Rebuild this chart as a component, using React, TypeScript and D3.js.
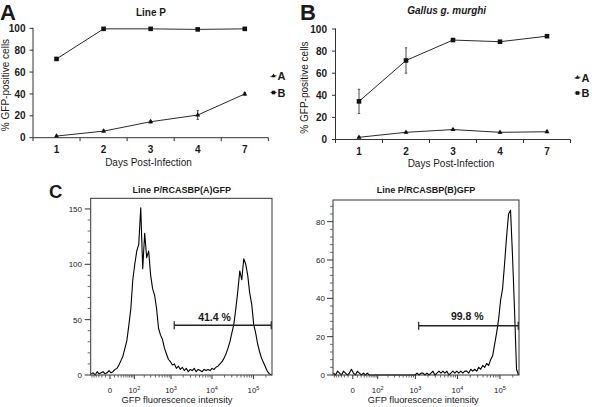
import React from "react";
import * as d3 from "d3";

// ---------- data ----------
const days = ["1", "2", "3", "4", "7"];
const pctTicks = [0, 20, 40, 60, 80, 100];

const linePA = [1.5, 6, 14.6, 20.7, 40];
const linePAerr = [0.8, 1, 1.2, 4, 1.2];
const linePB = [72, 99.5, 99.5, 99, 99.5];
const linePBerr = [0.5, 0.5, 0.5, 0.5, 0.5];

const gallusA = [2, 6.5, 9, 6.5, 7];
const gallusAerr = [0.5, 0.8, 0.8, 0.8, 0.8];
const gallusB = [34.5, 71.5, 90, 88.5, 93.5];
const gallusBerr = [11, 11.5, 0.8, 0.8, 0.8];

// flow histogram counts, bins evenly spaced on the display (logicle-like) axis
const histA = [
  1, 2, 0, 3, 1, 2, 3, 1, 2, 4, 2, 3, 5, 6, 9, 13, 17, 24, 31, 45,
  60, 86, 100, 112, 118, 151, 96, 128, 106, 112, 90, 78, 72, 60, 42, 36, 32, 24, 19, 14,
  12, 9, 10, 6, 8, 5, 7, 4, 6, 3, 5, 4, 6, 3, 5, 4, 3, 5, 4, 5,
  4, 6, 5, 7, 8, 10, 12, 15, 19, 24, 30, 38, 46, 60, 76, 94, 86, 105, 100, 90,
  74, 64, 46, 38, 28, 21, 15, 11, 7, 3, 1, 0,
];
const histB = [
  1, 0, 2, 1, 0, 2, 1, 0, 1, 3, 1, 0, 2, 1, 0, 1, 0, 1, 0, 0,
  0, 0, 0, 0, 0, 0, 0, 0, 0, 0, 0, 0, 0, 0, 0, 0, 0, 0, 0, 0,
  0, 0, 1, 0, 1, 1, 0, 1, 0, 1, 2, 0, 1, 2, 1, 2, 1, 2, 0, 1,
  2, 1, 2, 1, 2, 1, 2, 2, 1, 3, 2, 3, 2, 4, 3, 5, 4, 6, 5, 8,
  10, 16, 22, 29, 39, 45, 58, 72, 84, 86, 62, 34, 3, 0,
];

const flowDomain = [-67, 280000];
const flowTickValues = [0, 100, 1000, 10000, 100000];
const flowTickExp = [null, 2, 3, 4, 5];
const flowLinearMinor = [-60, -50, -40, -30, -20, -10, 10, 20, 30, 40, 50, 60, 70, 80, 90];

const gateA = [1200, 268000];
const gateALevel = 45;
const gateALabel = "41.4 %";
const gateB = [1200, 268000];
const gateBLevel = 25.7;
const gateBLabel = "99.8 %";

const histAYTicks = [0, 50, 100, 150];
const histBYTicks = [0, 20, 40, 60, 80];

const FONT = "Arial, 'Liberation Sans', Helvetica, sans-serif";
const INK = "#1a1a1a";

type LineProps = {
  x0: number; x1: number; yTop: number; yBot: number;
  letter: string; letterX: number; letterY: number;
  title: string; italic: boolean; titleX: number; titleY: number;
  yTitleX: number; yTitleY: number; yLabelX: number;
  catY: number; xTitleX: number; xTitleY: number;
  legX: number; legTextX: number; legAY: number; legBY: number;
  A: number[]; Aerr: number[]; B: number[]; Berr: number[];
};

function LinePanel(p: LineProps) {
  const x = d3.scaleBand<string>().domain(days).range([p.x0, p.x1]).padding(0);
  const y = d3.scaleLinear().domain([0, 100]).range([p.yBot, p.yTop]);
  const cx = (i: number) => (x(days[i]) as number) + x.bandwidth() / 2;
  const line = d3.line<number>().x((_, i) => cx(i)).y((v) => y(v));
  const tri = d3.symbol(d3.symbolTriangle, 11)()!;
  const sq = d3.symbol(d3.symbolSquare, 21)()!;
  const triL = d3.symbol(d3.symbolTriangle, 8)()!;
  const sqL = d3.symbol(d3.symbolSquare, 13)()!;
  const bounds = days.map((d) => x(d) as number).concat([p.x1]);
  const series = [
    { v: p.A, e: p.Aerr, sym: tri },
    { v: p.B, e: p.Berr, sym: sq },
  ];
  return (
    <g>
      <text x={p.letterX} y={p.letterY} fontSize={22} fontWeight="bold" fill={INK}>{p.letter}</text>
      <text x={p.titleX} y={p.titleY} fontSize={10} fontWeight="bold" fontStyle={p.italic ? "italic" : "normal"} textAnchor="middle" fill={INK}>{p.title}</text>
      {/* axes */}
      <line x1={p.x0} x2={p.x0} y1={y(100) - 0.5} y2={p.yBot} stroke="#333" strokeWidth={1} />
      <line x1={p.x0} x2={p.x1} y1={p.yBot} y2={p.yBot} stroke="#333" strokeWidth={1} />
      {pctTicks.map((t) => (
        <g key={t}>
          <line x1={p.x0 - 3.5} x2={p.x0} y1={y(t)} y2={y(t)} stroke="#333" />
          <text x={p.yLabelX} y={y(t) + 3.6} fontSize={10} fontWeight="bold" textAnchor="end" fill={INK}>{t}</text>
        </g>
      ))}
      {bounds.map((b, i) => (
        <line key={i} x1={b} x2={b} y1={p.yBot} y2={p.yBot + 3.5} stroke="#333" />
      ))}
      {days.map((d, i) => (
        <text key={d} x={cx(i)} y={p.catY} fontSize={10} fontWeight="bold" textAnchor="middle" fill={INK}>{d}</text>
      ))}
      <text x={p.xTitleX} y={p.xTitleY} fontSize={10} textAnchor="middle" fill={INK}>Days Post-Infection</text>
      <text transform={`translate(${p.yTitleX},${p.yTitleY}) rotate(-90)`} fontSize={10} textAnchor="middle" fill={INK}>% GFP-positive cells</text>
      {/* series */}
      {series.map((s, k) => (
        <g key={k}>
          <path d={line(s.v)!} fill="none" stroke="#2a2a2a" strokeWidth={1} />
          {s.v.map((v, i) => (
            <g key={i}>
              <line x1={cx(i)} x2={cx(i)} y1={y(v + s.e[i])} y2={y(v - s.e[i])} stroke="#333" strokeWidth={0.9} />
              <line x1={cx(i) - 1.2} x2={cx(i) + 1.2} y1={y(v + s.e[i])} y2={y(v + s.e[i])} stroke="#333" strokeWidth={0.8} />
              <line x1={cx(i) - 1.2} x2={cx(i) + 1.2} y1={y(v - s.e[i])} y2={y(v - s.e[i])} stroke="#333" strokeWidth={0.8} />
              <path d={s.sym} transform={`translate(${cx(i)},${y(v)})`} fill="#111" />
            </g>
          ))}
        </g>
      ))}
      {/* legend */}
      <line x1={p.legX - 3} x2={p.legX + 3} y1={p.legAY - 3.6} y2={p.legAY - 4.4} stroke="#333" strokeWidth={0.9} />
      <path d={triL} transform={`translate(${p.legX},${p.legAY - 4})`} fill="#111" />
      <text x={p.legTextX} y={p.legAY} fontSize={11} fontWeight="bold" fill={INK}>A</text>
      <line x1={p.legX - 3} x2={p.legX + 3} y1={p.legBY - 4} y2={p.legBY - 4} stroke="#333" strokeWidth={0.9} />
      <path d={sqL} transform={`translate(${p.legX},${p.legBY - 4})`} fill="#111" />
      <text x={p.legTextX} y={p.legBY} fontSize={11} fontWeight="bold" fill={INK}>B</text>
    </g>
  );
}

type HistProps = {
  boxL: number; boxR: number; boxT: number; boxB: number;
  yMax: number; yMajor: number[]; yMinorStep: number;
  counts: number[]; title: string; titleX: number; titleY: number;
  yLabelX: number; tickLabelY: number; xTitleX: number; xTitleY: number;
  gate: number[]; gateLevel: number; gateLabel: string; gateLabelX: number; gateLabelY: number;
};

function HistPanel(p: HistProps) {
  const xs = d3.scaleSymlog().constant(35).domain(flowDomain).range([p.boxL, p.boxR]);
  const xc = d3.scaleLinear().domain([0, p.counts.length - 1]).range([p.boxL + 0.5, p.boxR - 0.5]);
  const y = d3.scaleLinear().domain([0, p.yMax]).range([p.boxB, p.boxT]);
  const line = d3.line<number>().x((_, i) => xc(i)).y((v) => y(v));
  const minor: number[] = [];
  for (let t = 0; t <= p.yMax; t += p.yMinorStep) if (!p.yMajor.includes(t)) minor.push(t);
  const xMinor: number[] = [...flowLinearMinor];
  for (let k = 2; k <= 5; k++) for (let m = 2; m <= 9; m++) {
    const v = m * Math.pow(10, k);
    if (v < flowDomain[1]) xMinor.push(v);
  }
  const gy = y(p.gateLevel);
  const g0 = xs(p.gate[0]);
  const g1 = xs(p.gate[1]);
  return (
    <g>
      <text x={p.titleX} y={p.titleY} fontSize={9} fontWeight="bold" textAnchor="middle" fill={INK}>{p.title}</text>
      <path d={line(p.counts)!} fill="none" stroke="#000" strokeWidth={1.1} strokeLinejoin="round" />
      <rect x={p.boxL} y={p.boxT} width={p.boxR - p.boxL} height={p.boxB - p.boxT} fill="none" stroke="#333" strokeWidth={1} />
      {p.yMajor.map((t) => (
        <g key={t}>
          <line x1={p.boxL - 6} x2={p.boxL} y1={y(t)} y2={y(t)} stroke="#333" />
          <text x={p.yLabelX} y={y(t) + 2.9} fontSize={8} textAnchor="end" fill={INK}>{t}</text>
        </g>
      ))}
      {minor.map((t) => (
        <line key={t} x1={p.boxL - 3} x2={p.boxL} y1={y(t)} y2={y(t)} stroke="#444" strokeWidth={0.8} />
      ))}
      {xMinor.map((t) => (
        <line key={t} x1={xs(t)} x2={xs(t)} y1={p.boxB} y2={p.boxB + 2.5} stroke="#444" strokeWidth={0.8} />
      ))}
      {flowTickValues.map((t, i) => (
        <g key={t}>
          <line x1={xs(t)} x2={xs(t)} y1={p.boxB} y2={p.boxB + 4} stroke="#333" />
          <text x={xs(t)} y={p.tickLabelY} fontSize={7.8} textAnchor="middle" fill={INK}>
            {flowTickExp[i] === null ? "0" : "10"}
            {flowTickExp[i] !== null && <tspan dy={-3.5} fontSize={5.5}>{flowTickExp[i]}</tspan>}
          </text>
        </g>
      ))}
      <text x={p.xTitleX} y={p.xTitleY} fontSize={9.3} textAnchor="middle" fill={INK}>GFP fluorescence intensity</text>
      {/* gate */}
      <line x1={g0} x2={g1} y1={gy} y2={gy} stroke="#222" strokeWidth={1.5} />
      <line x1={g0} x2={g0} y1={gy - 4} y2={gy + 4} stroke="#222" strokeWidth={1.2} />
      <line x1={g1} x2={g1} y1={gy - 4} y2={gy + 4} stroke="#222" strokeWidth={1.2} />
      <text x={p.gateLabelX} y={p.gateLabelY} fontSize={10.5} fontWeight="bold" textAnchor="middle" fill={INK}>{p.gateLabel}</text>
    </g>
  );
}

export default function App() {
  return (
    <svg width={592} height={407} viewBox="0 0 592 407" style={{ position: "absolute", left: 0, top: 0, background: "#fff" }} fontFamily={FONT}>
      <rect x={0} y={0} width={592} height={407} fill="#fff" />
      <LinePanel
        x0={33} x1={268.3} yTop={28.3} yBot={137.7}
        letter="A" letterX={0} letterY={20}
        title="Line P" italic={false} titleX={151} titleY={15.5}
        yTitleX={8.5} yTitleY={85} yLabelX={25.5}
        catY={153} xTitleX={148.5} xTitleY={165.5}
        legX={273.5} legTextX={277.5} legAY={80} legBY={96.5}
        A={linePA} Aerr={linePAerr} B={linePB} Berr={linePBerr}
      />
      <LinePanel
        x0={335.5} x1={570.5} yTop={29} yBot={139.5}
        letter="B" letterX={300} letterY={20}
        title="Gallus g. murghi" italic={true} titleX={446.7} titleY={13.5}
        yTitleX={308} yTitleY={87.5} yLabelX={327}
        catY={155} xTitleX={451} xTitleY={166.5}
        legX={577.5} legTextX={581.5} legAY={81.5} legBY={97}
        A={gallusA} Aerr={gallusAerr} B={gallusB} Berr={gallusBerr}
      />
      <text x={49} y={198} fontSize={18.5} fontWeight="bold" fill={INK}>C</text>
      <HistPanel
        boxL={90.7} boxR={272} boxT={198.3} boxB={375}
        yMax={159.6} yMajor={histAYTicks} yMinorStep={10}
        counts={histA} title="Line P/RCASBP(A)GFP" titleX={181.7} titleY={192.5}
        yLabelX={82} tickLabelY={393.3} xTitleX={177} xTitleY={403}
        gate={gateA} gateLevel={gateALevel} gateLabel={gateALabel} gateLabelX={214.5} gateLabelY={320.7}
      />
      <HistPanel
        boxL={333} boxR={519} boxT={200} boxB={375}
        yMax={91.3} yMajor={histBYTicks} yMinorStep={4}
        counts={histB} title="Line P/RCASBP(B)GFP" titleX={426} titleY={193}
        yLabelX={325} tickLabelY={393.3} xTitleX={423.3} xTitleY={403}
        gate={gateB} gateLevel={gateBLevel} gateLabel={gateBLabel} gateLabelX={467.3} gateLabelY={320}
      />
    </svg>
  );
}
